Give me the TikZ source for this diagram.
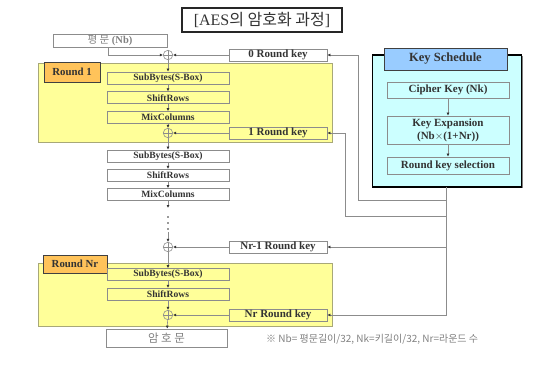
\documentclass[tikz,border=0pt]{standalone}
\usepackage{fontspec}
\setmainfont{Liberation Serif}
\newfontfamily\krfont{Noto Sans CJK KR}
\usepackage{xcolor}
\usetikzlibrary{arrows.meta,positioning,shadows}

\definecolor{roundbg}{HTML}{FFFF99}
\definecolor{roundedge}{HTML}{A8A878}
\definecolor{tagfill}{HTML}{FFC35A}
\definecolor{keybg}{HTML}{CCFFFF}
\definecolor{keyhead}{HTML}{99CCFF}
\definecolor{wire}{HTML}{8C8C8C}
\definecolor{ink}{HTML}{333333}
\definecolor{pale}{HTML}{808080}

\begin{document}
\begin{tikzpicture}[
  x=1pt, y=-1pt,
  node distance=7pt,
  stage/.style={draw=wire, line width=0.7pt, minimum width=122pt, minimum height=12pt, inner sep=0pt, text=ink, font=\bfseries\fontsize{9.6}{10}\selectfont},
  keybox/.style={draw=wire, line width=0.7pt, minimum width=98pt, minimum height=12pt, inner sep=0pt, text=ink, font=\bfseries\fontsize{11}{12}\selectfont},
  xor/.style={circle, draw=wire, line width=0.6pt, minimum size=9.5pt, inner sep=0pt, path picture={\draw[wire, line width=0.6pt] (path picture bounding box.north) -- (path picture bounding box.south) (path picture bounding box.west) -- (path picture bounding box.east);}},
  area/.style={draw=roundedge, line width=0.8pt, fill=roundbg, minimum width=294pt, inner sep=0pt},
  tag/.style={draw=black!75, line width=0.9pt, fill=tagfill, inner sep=0pt, text=ink, font=\bfseries\fontsize{10.8}{12}\selectfont, drop shadow={shadow xshift=1.2pt, shadow yshift=-1.2pt, fill=black!70}},
  schedbox/.style={draw=wire, line width=0.7pt, fill=keybg, minimum width=122pt, inner sep=0pt, align=center, text=ink, font=\bfseries\fontsize{11}{13}\selectfont},
  arr/.style={-{Latex[length=3pt, width=3pt, color=black!80]}, draw=wire, line width=0.6pt},
  wirel/.style={draw=wire, line width=0.6pt}
]
\useasboundingbox (0,0) rectangle (540,368);

% title
\node[draw=black!85, line width=1.2pt, minimum width=160pt, minimum height=24pt, inner sep=0pt, font=\fontsize{16}{18}\selectfont, text=ink] (title) at (262,20) {[AES{\krfont 의 암호화 과정}]};

% round areas
\node[area, minimum height=79pt] (round1) at (185,102.5) {};
\node[area, minimum height=63pt] (roundnr) at (185,294.5) {};
\node[tag, minimum width=56pt, minimum height=20pt] (tag1) at (72,72) {Round 1};
\node[tag, minimum width=64pt, minimum height=18pt] (tagnr) at (75,264) {Round Nr};

% plaintext and first key
\node[draw=wire, line width=0.7pt, minimum width=114pt, minimum height=13pt, inner sep=0pt, text=pale, font=\fontsize{10.5}{11}\selectfont] (plain) at (110,40.5) {{\krfont 평 문} \textbf{(Nb)}};
\node[xor] (xor0) at (168,55) {};
\node[keybox] (key0) at (278,55) {0 Round key};

% round 1
\node[stage] (sb1) at (168,78) {SubBytes(S-Box)};
\node[stage, below=of sb1] (sr1) {ShiftRows};
\node[stage, below=of sr1] (mc1) {MixColumns};
\node[xor] (xor1) at (168,133) {};
\node[keybox] (key1) at (278,133) {1 Round key};

% middle rounds
\node[stage] (sb2) at (168,156) {SubBytes(S-Box)};
\node[stage, below=6.5pt of sb2] (sr2) {ShiftRows};
\node[stage, below=6.5pt of sr2] (mc2) {MixColumns};
\coordinate (gap1) at (168,208);
\coordinate (gap2) at (168,232);
\foreach \y in {217,223,229} \fill[ink] (168,\y) circle (0.9pt);
\node[xor] (xor2) at (168,247) {};
\node[keybox] (keynr1) at (278,247) {Nr-1 Round key};

% round Nr
\node[stage] (sb3) at (168,274.5) {SubBytes(S-Box)};
\node[stage, below=of sb3] (sr3) {ShiftRows};
\node[xor] (xor3) at (168,315) {};
\node[keybox] (keynr) at (278,315) {Nr Round key};
\node[draw=wire, line width=0.7pt, minimum width=121pt, minimum height=18pt, inner sep=0pt, text=pale, font=\krfont\fontsize{11.5}{12}\selectfont] (cipher) at (166.5,338) {암 호 문};
\node[anchor=west, inner sep=0pt, text=pale, font=\krfont\fontsize{10}{11}\selectfont] (note) at (266,339) {※ Nb= 평문길이/32, Nk=키길이/32, Nr=라운드 수};

% key schedule
\node[draw=black, line width=1.5pt, fill=keybg, minimum width=149pt, minimum height=132pt, inner sep=0pt, drop shadow={shadow xshift=1pt, shadow yshift=-1pt, fill=black}] (sched) at (447,121) {};
\node[draw=black!75, line width=0.8pt, fill=keyhead, minimum width=123pt, minimum height=22pt, inner sep=0pt, text=ink, font=\bfseries\fontsize{12.5}{14}\selectfont, drop shadow={shadow xshift=1.2pt, shadow yshift=-1.2pt, fill=black!70}] (head) at (445.5,59) {Key Schedule};
\node[schedbox, minimum height=16pt] (ck) at (448,90) {Cipher Key (Nk)};
\node[schedbox, minimum height=28pt] (kx) at (448,130) {Key Expansion\\(Nb$\times$(1+Nr))};
\node[schedbox, minimum height=17pt] (rks) at (448,165.5) {Round key selection};
\draw[arr] (ck) -- (kx);
\draw[arr] (kx) -- (rks);

% data path
\draw[arr] (plain.south -| 108,0) |- (xor0.west);
\draw[arr] (key0.west) -- (xor0.east);
\draw[arr] (xor0) -- (sb1);
\draw[arr] (sb1) -- (sr1);
\draw[arr] (sr1) -- (mc1);
\draw[arr] (mc1) -- (xor1);
\draw[arr] (key1.west) -- (xor1.east);
\draw[arr] (xor1) -- (sb2);
\draw[arr] (sb2) -- (sr2);
\draw[arr] (sr2) -- (mc2);
\draw[arr] (mc2) -- (gap1);
\draw[arr] (gap2) -- (xor2);
\draw[arr] (keynr1.west) -- (xor2.east);
\draw[arr] (xor2) -- (sb3);
\draw[arr] (sb3) -- (sr3);
\draw[arr] (sr3) -- (xor3);
\draw[arr] (keynr.west) -- (xor3.east);
\draw[arr] (xor3) -- (cipher);

% round key wires
\coordinate (trunk) at (446,187);
\coordinate (tap0) at (358,200);
\coordinate (tap1) at (345,216);
\draw[arr] (trunk) |- (keynr.east);
\draw[arr] (trunk |- keynr1.east) -- (keynr1.east);
\draw[wirel] (trunk |- tap0) -- (tap0);
\draw[arr] (tap0) |- (key0.east);
\draw[wirel] (trunk |- tap1) -- (tap1);
\draw[arr] (tap1) |- (key1.east);
\end{tikzpicture}
\end{document}
